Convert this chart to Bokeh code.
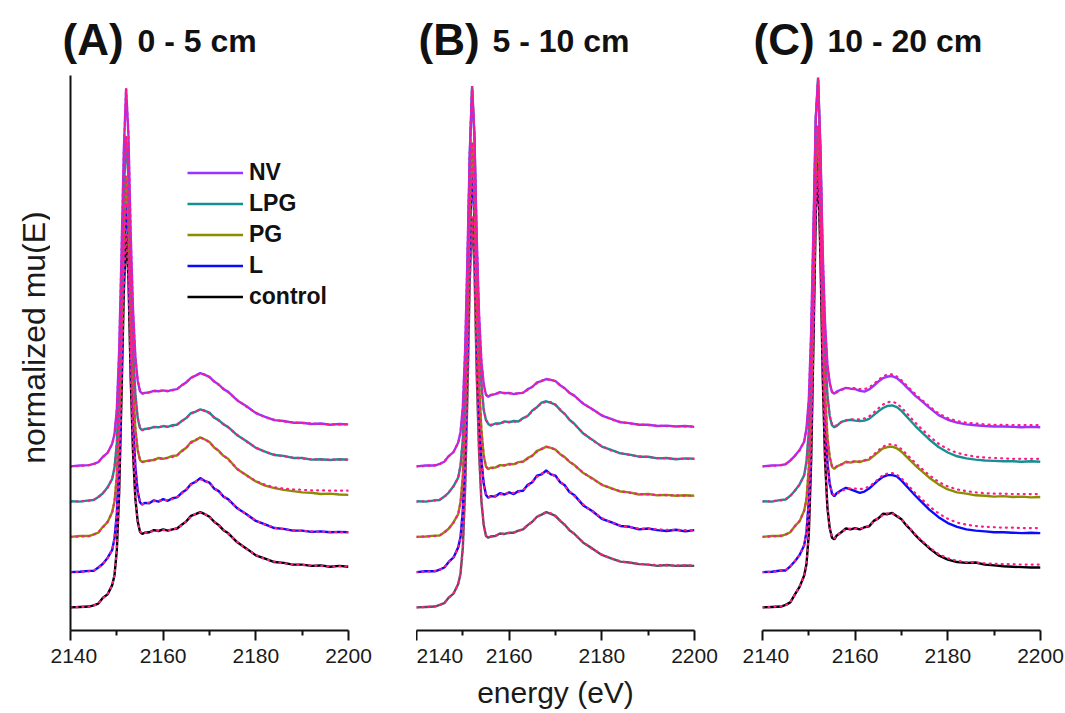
import numpy as np
from math import pi
from bokeh.plotting import figure
from bokeh.models import Range1d, FixedTicker, Label, Legend, LegendItem
from bokeh.layouts import row, column
from bokeh.embed import file_html
from bokeh.resources import INLINE

# ---------------- data ----------------
energy = [2140, 2142, 2144, 2145, 2146, 2147, 2148, 2149, 2149.5,
          2150, 2150.5, 2151, 2151.5, 2152, 2152.5, 2153, 2153.5, 2154, 2154.5, 2155, 2155.5,
          2156, 2157, 2158, 2159, 2160, 2161, 2162, 2163, 2164, 2165, 2166, 2167, 2168, 2169, 2170, 2171, 2172, 2173, 2174,
          2176, 2178, 2180, 2182, 2184, 2186, 2188, 2190, 2192, 2194, 2196, 2198, 2200]

series_names = ["NV", "LPG", "PG", "L", "control"]
stack_offsets = [3.36, 2.52, 1.68, 0.84, 0.0]
x_major_ticks = [2140, 2160, 2180, 2200]
x_minor_ticks = [2150, 2170, 2190]
panel_letters = ["(A)", "(B)", "(C)"]
panel_depths = ["0 - 5 cm", "5 - 10 cm", "10 - 20 cm"]

# ----- panel A (0 - 5 cm) -----
A_NV = [0.00,0.02,0.03,0.06,0.10,0.23,0.32,0.54,0.77,
        1.36,2.74,5.01,7.49,9.00,7.91,5.49,3.71,2.61,2.04,1.79,1.73,
        1.75,1.76,1.80,1.79,1.81,1.79,1.82,1.84,1.93,2.00,2.11,2.16,2.22,2.18,2.13,2.02,1.95,1.84,1.78,
        1.57,1.43,1.27,1.18,1.10,1.08,1.04,1.04,1.01,1.02,0.99,1.01,1.00]
A_NV_fit = [0.00,0.01,0.03,0.05,0.11,0.22,0.33,0.53,0.78,
            1.35,2.75,5.00,7.50,9.00,7.90,5.50,3.70,2.60,2.05,1.80,1.74,
            1.74,1.77,1.79,1.80,1.80,1.80,1.81,1.85,1.92,2.01,2.10,2.17,2.21,2.19,2.12,2.03,1.94,1.85,1.77,
            1.58,1.42,1.28,1.17,1.11,1.07,1.05,1.03,1.02,1.01,1.00,1.00,1.00]
A_LPG = [0.01,0.00,0.03,0.04,0.11,0.20,0.34,0.54,0.81,
         1.39,2.81,4.89,7.31,8.70,7.69,5.41,3.64,2.56,1.99,1.75,1.70,
         1.73,1.74,1.78,1.77,1.80,1.78,1.82,1.83,1.92,1.99,2.11,2.14,2.20,2.16,2.12,2.00,1.94,1.84,1.78,
         1.58,1.44,1.28,1.19,1.11,1.09,1.04,1.04,1.00,1.01,0.99,1.01,1.00]
A_LPG_fit = [0.00,0.01,0.02,0.04,0.10,0.21,0.33,0.55,0.80,
             1.40,2.80,4.90,7.30,8.70,7.70,5.40,3.65,2.55,2.00,1.76,1.71,
             1.72,1.75,1.77,1.78,1.78,1.79,1.80,1.84,1.91,2.00,2.09,2.15,2.19,2.17,2.10,2.01,1.93,1.85,1.77,
             1.59,1.43,1.29,1.18,1.12,1.08,1.05,1.03,1.01,1.00,1.00,1.00,1.00]
A_PG = [0.00,0.02,0.02,0.06,0.10,0.24,0.35,0.59,0.84,
        1.46,2.84,4.96,7.24,8.60,7.61,5.34,3.66,2.57,2.07,1.83,1.78,
        1.80,1.82,1.83,1.88,1.86,1.89,1.93,1.94,2.05,2.12,2.26,2.30,2.37,2.32,2.26,2.13,2.05,1.93,1.86,
        1.61,1.47,1.32,1.22,1.16,1.12,1.09,1.06,1.05,1.02,1.03,1.01,1.00]
A_PG_fit = [0.00,0.01,0.02,0.05,0.11,0.23,0.36,0.58,0.85,
            1.45,2.85,4.95,7.25,8.60,7.60,5.35,3.65,2.58,2.06,1.84,1.79,
            1.79,1.81,1.84,1.86,1.87,1.88,1.90,1.95,2.03,2.13,2.24,2.31,2.36,2.33,2.25,2.14,2.04,1.94,1.85,
            1.62,1.46,1.33,1.24,1.18,1.15,1.13,1.12,1.11,1.11,1.10,1.10,1.10]
A_L = [0.00,0.01,0.03,0.03,0.11,0.20,0.34,0.53,0.81,
       1.39,2.79,4.94,7.41,8.80,7.79,5.41,3.59,2.51,1.92,1.66,1.61,
       1.65,1.64,1.71,1.68,1.74,1.70,1.76,1.78,1.89,1.96,2.10,2.15,2.24,2.17,2.13,1.99,1.93,1.80,1.74,
       1.52,1.38,1.22,1.14,1.05,1.03,0.99,0.99,0.96,0.97,0.95,0.96,0.95]
A_L_fit = [0.00,0.01,0.02,0.04,0.10,0.21,0.33,0.54,0.80,
           1.40,2.78,4.95,7.40,8.80,7.80,5.40,3.60,2.50,1.93,1.67,1.62,
           1.63,1.66,1.69,1.70,1.71,1.72,1.74,1.79,1.87,1.97,2.08,2.16,2.21,2.19,2.11,2.01,1.91,1.81,1.72,
           1.53,1.37,1.23,1.13,1.06,1.02,1.00,0.98,0.97,0.96,0.96,0.95,0.95]
A_control = [0.00,0.01,0.02,0.05,0.09,0.23,0.31,0.53,0.77,
             1.37,2.73,4.99,7.49,8.90,7.86,5.44,3.69,2.59,2.05,1.80,1.75,
             1.78,1.79,1.84,1.82,1.86,1.83,1.86,1.88,1.97,2.05,2.18,2.22,2.27,2.22,2.16,2.04,1.96,1.84,1.77,
             1.55,1.40,1.24,1.16,1.08,1.06,1.02,1.02,0.99,1.00,0.97,0.99,0.97]
A_control_fit = [0.00,0.01,0.02,0.04,0.10,0.22,0.32,0.52,0.78,
                 1.36,2.74,4.98,7.50,8.90,7.85,5.45,3.68,2.60,2.04,1.81,1.76,
                 1.77,1.80,1.82,1.83,1.84,1.84,1.85,1.89,1.96,2.06,2.16,2.23,2.26,2.23,2.15,2.05,1.95,1.85,1.76,
                 1.56,1.39,1.25,1.15,1.09,1.05,1.03,1.01,1.00,0.99,0.98,0.98,0.98]

# ----- panel B (5 - 10 cm) -----
B_NV = [0.00,0.02,0.02,0.06,0.11,0.25,0.34,0.57,0.81,
        1.41,2.77,5.01,7.49,9.00,7.91,5.44,3.63,2.51,1.96,1.70,1.66,
        1.70,1.72,1.77,1.74,1.75,1.72,1.74,1.75,1.84,1.89,2.00,2.03,2.08,2.06,2.03,1.93,1.86,1.75,1.69,
        1.49,1.36,1.21,1.13,1.05,1.03,0.99,0.99,0.96,0.97,0.95,0.96,0.94]
B_NV_fit = [0.00,0.01,0.03,0.05,0.12,0.24,0.35,0.56,0.82,
            1.40,2.78,5.00,7.50,9.00,7.90,5.45,3.62,2.52,1.95,1.71,1.67,
            1.69,1.73,1.75,1.75,1.74,1.73,1.73,1.76,1.82,1.90,1.98,2.04,2.07,2.07,2.02,1.94,1.85,1.76,1.68,
            1.50,1.35,1.22,1.12,1.06,1.02,1.00,0.98,0.97,0.96,0.96,0.95,0.95]
B_LPG = [0.01,0.00,0.03,0.04,0.12,0.22,0.37,0.57,0.86,
         1.49,3.01,5.39,8.21,9.90,8.69,6.01,3.99,2.81,2.19,1.94,1.85,
         1.81,1.86,1.86,1.91,1.89,1.92,1.91,1.99,2.04,2.17,2.25,2.36,2.39,2.35,2.31,2.18,2.09,1.95,1.86,
         1.62,1.47,1.31,1.23,1.15,1.12,1.07,1.07,1.03,1.04,1.01,1.03,1.02]
B_LPG_fit = [0.00,0.01,0.03,0.05,0.11,0.23,0.36,0.58,0.85,
             1.50,3.00,5.40,8.20,9.90,8.70,6.00,4.00,2.80,2.20,1.95,1.86,
             1.83,1.84,1.87,1.89,1.90,1.90,1.92,1.97,2.05,2.15,2.26,2.34,2.38,2.37,2.30,2.20,2.08,1.96,1.85,
             1.63,1.46,1.32,1.22,1.16,1.11,1.08,1.06,1.04,1.03,1.02,1.02,1.02]
B_PG = [0.00,0.01,0.03,0.03,0.11,0.20,0.35,0.54,0.83,
        1.44,2.91,5.19,7.91,9.40,8.19,5.61,3.69,2.56,1.94,1.67,1.61,
        1.65,1.65,1.71,1.70,1.74,1.73,1.78,1.79,1.88,1.93,2.05,2.09,2.15,2.12,2.08,1.97,1.90,1.79,1.72,
        1.52,1.39,1.24,1.16,1.08,1.06,1.01,1.02,0.99,1.00,0.98,0.99,0.98]
B_PG_fit = [0.00,0.01,0.02,0.04,0.10,0.21,0.34,0.55,0.82,
            1.45,2.90,5.20,7.90,9.40,8.20,5.60,3.70,2.55,1.95,1.68,1.62,
            1.63,1.66,1.69,1.71,1.72,1.74,1.76,1.80,1.86,1.94,2.03,2.10,2.14,2.13,2.07,1.98,1.89,1.80,1.71,
            1.53,1.38,1.25,1.15,1.09,1.05,1.02,1.01,1.00,0.99,0.99,0.98,0.98]
B_L = [0.00,0.02,0.02,0.06,0.11,0.25,0.35,0.59,0.83,
       1.47,2.91,5.26,7.99,9.60,8.41,5.79,3.91,2.69,2.11,1.84,1.77,
       1.81,1.80,1.88,1.85,1.90,1.86,1.93,1.94,2.08,2.14,2.30,2.33,2.42,2.33,2.30,2.14,2.07,1.91,1.84,
       1.59,1.45,1.27,1.19,1.10,1.08,1.02,1.04,1.00,0.98,1.01,0.97,1.00]
B_L_fit = [0.00,0.01,0.03,0.05,0.12,0.24,0.36,0.58,0.84,
           1.46,2.92,5.25,8.00,9.60,8.40,5.80,3.90,2.70,2.10,1.85,1.79,
           1.79,1.82,1.85,1.87,1.88,1.89,1.91,1.96,2.05,2.16,2.27,2.35,2.38,2.35,2.27,2.17,2.05,1.93,1.82,
           1.61,1.44,1.29,1.18,1.11,1.07,1.04,1.03,1.02,1.01,1.01,1.00,1.00]
B_control = [0.00,0.01,0.02,0.06,0.10,0.24,0.33,0.56,0.80,
             1.43,2.84,5.11,7.79,9.30,8.11,5.54,3.71,2.54,1.97,1.70,1.66,
             1.69,1.70,1.76,1.75,1.78,1.78,1.83,1.86,1.96,2.04,2.16,2.21,2.27,2.23,2.18,2.06,1.97,1.84,1.76,
             1.54,1.40,1.25,1.17,1.09,1.07,1.03,1.02,0.99,1.01,0.99,1.00,0.99]
B_control_fit = [0.00,0.01,0.03,0.05,0.11,0.23,0.34,0.55,0.81,
                 1.42,2.85,5.10,7.80,9.30,8.10,5.55,3.70,2.55,1.96,1.71,1.67,
                 1.68,1.71,1.74,1.76,1.77,1.79,1.82,1.87,1.95,2.05,2.15,2.22,2.26,2.24,2.17,2.07,1.96,1.85,1.75,
                 1.55,1.39,1.26,1.16,1.10,1.06,1.04,1.02,1.01,1.00,1.00,1.00,1.00]

# ----- panel C (10 - 20 cm) -----
C_NV = [0.00,0.02,0.03,0.05,0.14,0.25,0.39,0.59,0.91,
        1.59,3.21,5.69,8.31,9.20,7.61,5.09,3.41,2.44,1.99,1.77,1.73,
        1.78,1.83,1.87,1.85,1.84,1.80,1.78,1.83,1.92,2.02,2.10,2.14,2.15,2.10,2.01,1.90,1.79,1.68,1.59,
        1.40,1.22,1.11,1.04,1.00,0.98,0.96,0.95,0.95,0.94,0.93,0.94,0.93]
C_NV_fit = [0.00,0.01,0.03,0.06,0.13,0.26,0.38,0.60,0.90,
            1.60,3.20,5.70,8.30,9.20,7.60,5.10,3.40,2.45,1.98,1.78,1.74,
            1.76,1.82,1.86,1.87,1.86,1.84,1.84,1.88,1.96,2.06,2.14,2.19,2.19,2.14,2.05,1.94,1.83,1.72,1.62,
            1.43,1.26,1.15,1.08,1.04,1.02,1.00,0.99,0.99,0.98,0.98,0.98,0.98]
C_LPG = [0.01,0.00,0.04,0.05,0.14,0.26,0.41,0.63,0.96,
         1.69,3.51,6.19,9.11,10.10,8.29,5.51,3.59,2.56,2.04,1.82,1.77,
         1.80,1.90,1.93,1.95,1.93,1.92,1.93,1.97,2.06,2.15,2.23,2.28,2.29,2.25,2.16,2.04,1.92,1.80,1.69,
         1.48,1.30,1.17,1.08,1.03,1.00,0.98,0.97,0.96,0.96,0.95,0.96,0.95]
C_LPG_fit = [0.00,0.01,0.03,0.06,0.13,0.27,0.40,0.64,0.95,
             1.70,3.50,6.20,9.10,10.10,8.30,5.50,3.60,2.55,2.05,1.84,1.79,
             1.82,1.89,1.94,1.96,1.96,1.96,1.98,2.03,2.12,2.22,2.31,2.37,2.38,2.34,2.24,2.12,2.00,1.88,1.77,
             1.56,1.38,1.25,1.16,1.11,1.07,1.05,1.04,1.03,1.02,1.02,1.02,1.02]
C_PG = [0.00,0.02,0.02,0.06,0.11,0.26,0.37,0.63,0.91,
        1.66,3.39,6.01,8.79,9.80,8.01,5.29,3.46,2.39,1.91,1.67,1.62,
        1.68,1.72,1.79,1.77,1.80,1.78,1.82,1.84,1.93,2.02,2.11,2.14,2.15,2.11,2.03,1.92,1.81,1.70,1.60,
        1.41,1.25,1.13,1.06,1.03,0.99,0.98,0.96,0.97,0.95,0.96,0.94,0.95]
C_PG_fit = [0.00,0.01,0.03,0.05,0.12,0.25,0.38,0.62,0.92,
            1.65,3.40,6.00,8.80,9.80,8.00,5.30,3.45,2.40,1.90,1.69,1.64,
            1.67,1.73,1.77,1.79,1.80,1.80,1.82,1.87,1.96,2.06,2.15,2.20,2.21,2.17,2.09,1.98,1.87,1.76,1.66,
            1.47,1.31,1.20,1.13,1.09,1.06,1.04,1.03,1.03,1.02,1.02,1.02,1.02]
C_L = [0.00,0.01,0.04,0.04,0.14,0.26,0.41,0.64,0.97,
       1.71,3.56,6.29,9.31,10.30,8.39,5.61,3.69,2.63,2.11,1.87,1.81,
       1.88,1.95,2.01,1.97,1.93,1.89,1.92,1.99,2.09,2.19,2.27,2.31,2.31,2.28,2.18,2.06,1.94,1.82,1.71,
       1.49,1.31,1.17,1.08,1.02,0.99,0.97,0.95,0.95,0.94,0.93,0.94,0.93]
C_L_fit = [0.00,0.01,0.03,0.05,0.13,0.27,0.40,0.65,0.96,
           1.72,3.55,6.30,9.30,10.30,8.40,5.60,3.70,2.62,2.12,1.89,1.83,
           1.86,1.93,1.98,2.00,1.99,1.98,1.99,2.04,2.12,2.22,2.31,2.35,2.36,2.32,2.23,2.12,2.00,1.88,1.78,
           1.57,1.40,1.27,1.18,1.13,1.10,1.08,1.07,1.06,1.06,1.05,1.05,1.05]
C_control = [0.00,0.01,0.02,0.06,0.12,0.31,0.49,0.76,1.04,
             1.76,3.49,6.31,9.39,10.40,8.41,5.49,3.51,2.39,1.89,1.66,1.62,
             1.71,1.79,1.88,1.86,1.89,1.86,1.91,1.93,2.06,2.12,2.23,2.22,2.25,2.17,2.10,1.96,1.85,1.72,1.61,
             1.41,1.24,1.14,1.08,1.06,1.07,1.02,1.00,0.98,0.97,0.96,0.95,0.95]
C_control_fit = [0.00,0.01,0.03,0.05,0.13,0.30,0.50,0.75,1.05,
                 1.75,3.50,6.30,9.40,10.40,8.40,5.50,3.50,2.40,1.90,1.68,1.64,
                 1.70,1.80,1.86,1.88,1.88,1.88,1.90,1.95,2.04,2.13,2.20,2.24,2.24,2.19,2.10,1.98,1.86,1.74,1.63,
                 1.43,1.27,1.17,1.11,1.08,1.07,1.05,1.04,1.03,1.03,1.02,1.02,1.02]

panels = [
    {"NV": (A_NV, A_NV_fit), "LPG": (A_LPG, A_LPG_fit), "PG": (A_PG, A_PG_fit),
     "L": (A_L, A_L_fit), "control": (A_control, A_control_fit)},
    {"NV": (B_NV, B_NV_fit), "LPG": (B_LPG, B_LPG_fit), "PG": (B_PG, B_PG_fit),
     "L": (B_L, B_L_fit), "control": (B_control, B_control_fit)},
    {"NV": (C_NV, C_NV_fit), "LPG": (C_LPG, C_LPG_fit), "PG": (C_PG, C_PG_fit),
     "L": (C_L, C_L_fit), "control": (C_control, C_control_fit)},
]
for pd_ in panels:
    for k, (d, f) in pd_.items():
        assert len(d) == len(energy) and len(f) == len(energy), k

# ---------------- style ----------------
FONT = "Liberation Sans"
INK = "#111111"
series_colors = {"NV": "#9933FF", "LPG": "#158F8F", "PG": "#8C8C00", "L": "#0A0AFF", "control": "#000000"}
control_colors = ["#000000", "#555555", "#000000"]
FIT_COLOR = "#FF1A8C"

TOP_H = 75          # title strip height
PANEL_H = 713 - TOP_H


def blank_fig(w, h):
    f = figure(width=w, height=h, x_range=Range1d(0, 1), y_range=Range1d(0, 1),
               output_backend="svg", toolbar_location=None, title=None,
               x_axis_location=None, y_axis_location=None,
               min_border_left=0, min_border_right=0, min_border_top=0, min_border_bottom=0)
    f.grid.visible = False
    f.outline_line_color = None
    f.background_fill_color = "white"
    f.border_fill_color = "white"
    return f


# title strip across the top
title_strip = blank_fig(1065, TOP_H)
title_pos = [(62, 137), (418, 492), (753, 827)]
for i in range(3):
    lx, sx = title_pos[i]
    title_strip.add_layout(Label(x=lx, y=36, x_units="screen", y_units="screen",
                                 text=panel_letters[i], text_font=FONT, text_font_size="44px",
                                 text_font_style="bold", text_baseline="alphabetic", text_color=INK))
    title_strip.add_layout(Label(x=sx, y=35, x_units="screen", y_units="screen",
                                 text=panel_depths[i], text_font=FONT, text_font_size="32px",
                                 text_font_style="bold", text_baseline="alphabetic", text_color=INK))

# y-label strip on the left
ylab_strip = blank_fig(50, PANEL_H)
ylab_strip.add_layout(Label(x=33, y=293, x_units="screen", y_units="screen",
                            text="normalized mu(E)", angle=pi / 2, text_align="center",
                            text_baseline="middle", text_font=FONT, text_font_size="32px",
                            text_color="#1a1a1a"))

geom = [  # width, border_left, border_right
    (366, 20, 68),
    (326, 0, 48),
    (323, 20, 25),
]

figs = []
for i, pdata in enumerate(panels):
    w, bl, br = geom[i]
    p = figure(width=w, height=PANEL_H, x_range=Range1d(2140, 2200), y_range=Range1d(-0.55, 12.67),
               output_backend="svg", toolbar_location=None, title=None,
               y_axis_location=("left" if i == 0 else None),
               min_border_left=bl, min_border_right=br, min_border_top=0, min_border_bottom=83)
    p.grid.visible = False
    p.outline_line_color = None
    p.background_fill_color = "white"
    p.border_fill_color = "white"

    xa = p.xaxis[0]
    xa.ticker = FixedTicker(ticks=x_major_ticks, minor_ticks=x_minor_ticks)
    xa.axis_line_width = 2
    xa.axis_line_color = INK
    xa.major_tick_line_width = 2
    xa.minor_tick_line_width = 2
    xa.major_tick_line_color = INK
    xa.minor_tick_line_color = INK
    xa.major_tick_in = 0
    xa.major_tick_out = 10
    xa.minor_tick_in = 0
    xa.minor_tick_out = 5
    xa.major_label_text_font = FONT
    xa.major_label_text_font_size = "21px"
    xa.major_label_text_color = "#1a1a1a"
    xa.major_label_standoff = 8
    if i == 1:
        xa.axis_label = "energy (eV)"
        xa.axis_label_text_font = FONT
        xa.axis_label_text_font_size = "30px"
        xa.axis_label_text_font_style = "normal"
        xa.axis_label_text_color = "#1a1a1a"
        xa.axis_label_standoff = 10

    if i == 0:
        ya = p.yaxis[0]
        ya.ticker = FixedTicker(ticks=[])
        ya.axis_line_width = 2
        ya.axis_line_color = INK
        ya.major_tick_line_color = None
        ya.minor_tick_line_color = None

    data_renderers = {}
    for name, off in zip(series_names[::-1], stack_offsets[::-1]):
        d, f = pdata[name]
        col = control_colors[i] if name == "control" else series_colors[name]
        data_renderers[name] = p.line(energy, np.array(d) + off, line_color=col, line_width=2.4)
    for name, off in zip(series_names[::-1], stack_offsets[::-1]):
        d, f = pdata[name]
        p.line(energy, np.array(f) + off, line_color=FIT_COLOR, line_width=2.2,
               line_dash="1 5", line_cap="round")

    if i == 0:
        legend = Legend(items=[LegendItem(label=n, renderers=[data_renderers[n]]) for n in series_names],
                        location=(117, 318), orientation="vertical",
                        label_text_font=FONT, label_text_font_size="23px", label_text_font_style="bold",
                        label_text_color=INK,
                        glyph_width=56, glyph_height=31, label_height=31, spacing=0, padding=0, margin=0,
                        label_standoff=6, border_line_color=None, background_fill_alpha=0)
        p.add_layout(legend)

    figs.append(p)

layout = column(title_strip, row(ylab_strip, *figs, spacing=0), spacing=0)
open("out.html", "w").write(file_html(layout, INLINE))
